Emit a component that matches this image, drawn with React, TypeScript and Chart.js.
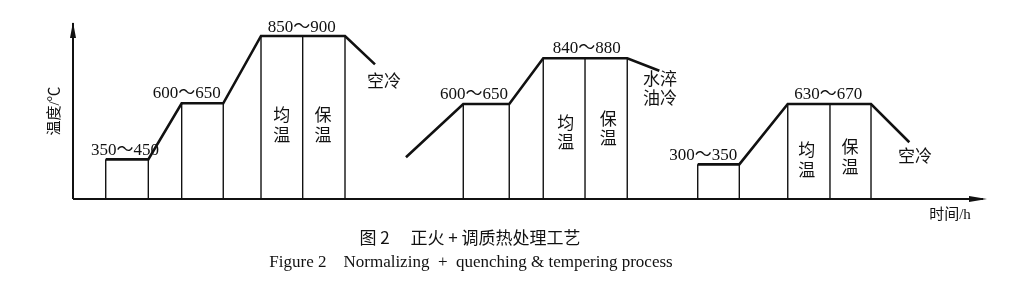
import React, { useEffect, useRef } from "react";
import { Chart, registerables } from "chart.js";

Chart.register(...registerables);

// Schematic process profile: time (relative units 0-100) and temperature level (relative 0-100)
const normTime = [3.58, 8.24, 11.89, 16.44, 20.57, 29.76, 33.04];
const normTemp = [22.8, 22.8, 55.0, 55.0, 93.7, 93.7, 77.4];
const quenchTime = [36.43, 42.7, 47.73, 51.45, 60.64, 64.15];
const quenchTemp = [24.0, 54.6, 54.6, 80.9, 80.9, 73.7];
const temperTime = [68.35, 72.9, 78.2, 87.31, 91.5];
const temperTemp = [19.9, 19.9, 54.6, 54.6, 32.6];

// Vertical stage boundaries (time, level)
const stageTime = [3.58, 8.24, 11.89, 16.44, 20.57, 25.13, 29.76, 42.7, 47.73, 51.45, 56.02, 60.64, 68.35, 72.9, 78.2, 82.82, 87.31];
const stageTemp = [22.8, 22.8, 55.0, 55.0, 93.7, 93.7, 93.7, 54.6, 54.6, 80.9, 80.9, 80.9, 19.9, 19.9, 54.6, 54.6, 54.6];

// Annotations
const labelText = ["350～450", "600～650", "850～900", "空冷", "均\n温", "保\n温", "600～650", "840～880", "水淬\n油冷", "均\n温", "保\n温", "300～350", "630～670", "均\n温", "保\n温", "空冷"];
const labelTime = [5.69, 12.44, 25.02, 34.03, 22.83, 27.35, 43.87, 56.2, 64.22, 53.9, 58.57, 68.96, 82.64, 80.27, 85.01, 92.12];
const labelTemp = [27.9, 60.7, 98.3, 67.0, 41.7, 41.7, 60.3, 86.6, 62.5, 37.4, 39.5, 24.7, 60.2, 21.4, 23.4, 24.0];

const yTitle = "温度/℃";
const xTitle = "时间/h";
const captionZh = "图 2　 正火 + 调质热处理工艺";
const captionEn = "Figure 2    Normalizing  +  quenching & tempering process";

const INK = "#111";
const LABEL_FONT = "'Liberation Serif', 'Noto Sans CJK SC'";

const toPts = (xs: number[], ys: number[]) => xs.map((x, i) => ({ x, y: ys[i] }));

export default function App() {
  const ref = useRef<HTMLCanvasElement | null>(null);
  useEffect(() => {
    if (!ref.current) return;
    const profileDs = (xs: number[], ys: number[]) => ({
      data: toPts(xs, ys),
      showLine: true,
      borderColor: INK,
      borderWidth: 2.6,
      pointRadius: 0,
      tension: 0,
      fill: false,
    });
    const verticals = stageTime.map((t, i) => ({
      data: [{ x: t, y: 0 }, { x: t, y: stageTemp[i] }],
      showLine: true,
      borderColor: INK,
      borderWidth: 1.4,
      pointRadius: 0,
      fill: false,
    }));

    const annot = {
      id: "annot",
      afterDraw(chart: any) {
        const { ctx, chartArea, scales } = chart;
        const xs = scales.x, ys = scales.y;
        const x0 = xs.getPixelForValue(0);
        const y0 = ys.getPixelForValue(0);
        ctx.save();
        ctx.strokeStyle = INK;
        ctx.fillStyle = INK;
        ctx.lineWidth = 2;
        // axes
        ctx.beginPath();
        ctx.moveTo(x0, y0);
        ctx.lineTo(x0, chartArea.top - 2);
        ctx.moveTo(x0, y0);
        ctx.lineTo(chartArea.right - 4, y0);
        ctx.stroke();
        // arrows
        ctx.beginPath();
        ctx.moveTo(x0, chartArea.top - 3);
        ctx.lineTo(x0 - 3, chartArea.top + 13);
        ctx.lineTo(x0 + 3, chartArea.top + 13);
        ctx.closePath();
        ctx.fill();
        ctx.beginPath();
        ctx.moveTo(chartArea.right, y0);
        ctx.lineTo(chartArea.right - 18, y0 - 3);
        ctx.lineTo(chartArea.right - 18, y0 + 3);
        ctx.closePath();
        ctx.fill();

        // labels
        ctx.textAlign = "center";
        ctx.textBaseline = "middle";
        labelText.forEach((t, i) => {
          const px = xs.getPixelForValue(labelTime[i]);
          const py = ys.getPixelForValue(labelTemp[i]);
          ctx.font = "17px " + LABEL_FONT;
          const lines = t.split("\n");
          const lh = 19.5;
          lines.forEach((ln, k) => {
            ctx.fillText(ln, px, py + (k - (lines.length - 1) / 2) * lh);
          });
        });

        // axis titles
        ctx.font = "15px " + LABEL_FONT;
        ctx.save();
        ctx.translate(x0 - 18, 111);
        ctx.rotate(-Math.PI / 2);
        ctx.fillText(yTitle, 0, 0);
        ctx.restore();
        ctx.fillText(xTitle, chartArea.right - 37, y0 + 16);

        // caption
        ctx.font = "17px 'Noto Sans CJK SC'";
        ctx.fillText(captionZh, 470, 238);
        ctx.font = "17px 'Liberation Serif'";
        ctx.fillText(captionEn, 471, 263);
        ctx.restore();
      },
    };

    const chart = new Chart(ref.current, {
      type: "scatter",
      data: {
        datasets: [
          profileDs(normTime, normTemp),
          profileDs(quenchTime, quenchTemp),
          profileDs(temperTime, temperTemp),
          ...verticals,
        ] as any,
      },
      options: {
        animation: false,
        responsive: false,
        devicePixelRatio: 1,
        layout: { padding: { left: 73, right: 41, top: 25, bottom: 85 } },
        plugins: { legend: { display: false }, tooltip: { enabled: false } },
        scales: {
          x: {
            type: "linear",
            min: 0,
            max: 100,
            display: true,
            grid: { display: false },
            border: { display: false },
            ticks: { display: false },
            afterFit: (s: any) => { s.height = 0; },
          },
          y: {
            type: "linear",
            min: 0,
            max: 100,
            display: true,
            grid: { display: false },
            border: { display: false },
            ticks: { display: false },
            afterFit: (s: any) => { s.width = 0; },
          },
        },
      },
      plugins: [annot],
    });
    return () => chart.destroy();
  }, []);

  return (
    <div style={{ position: "absolute", left: 0, top: 0, width: 1028, height: 284, background: "#fff" }}>
      <canvas ref={ref} width={1028} height={284} style={{ width: 1028, height: 284, display: "block" }} />
    </div>
  );
}
